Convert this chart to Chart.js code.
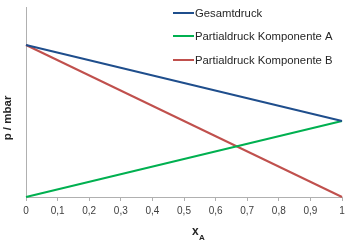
<!DOCTYPE html>
<html><head><meta charset="utf-8">
<script src="https://cdn.jsdelivr.net/npm/chart.js@4"></script>
<style>html,body{margin:0;padding:0;background:#fff}#w{width:352px;height:243px}</style>
</head><body><div id="w"><canvas id="c" width="352" height="243"></canvas></div>
<script>
const xValues = [0, 1];
const gesamtdruck = [100, 50];
const partialA = [0, 50];
const partialB = [100, 0];
const seriesLabels = ['Gesamtdruck', 'Partialdruck Komponente A', 'Partialdruck Komponente B'];
const seriesColors = ['#1f4e8c', '#00b050', '#c0504d'];
const xTickStep = 0.1;
const yMax = 125;

const font = 'Liberation Sans, Arial, sans-serif';
const mk = (arr) => xValues.map((x, i) => ({x, y: arr[i]}));

const deco = {
  id: 'deco',
  afterDraw(chart) {
    const ctx = chart.ctx;
    ctx.save();
    // legend
    ctx.font = '11.3px ' + font;
    ctx.textBaseline = 'middle';
    const rows = [13, 36, 60];
    chart.data.datasets.forEach((ds, i) => {
      ctx.strokeStyle = ds.borderColor;
      ctx.lineWidth = 2;
      ctx.beginPath(); ctx.moveTo(173, rows[i]); ctx.lineTo(194, rows[i]); ctx.stroke();
      ctx.fillStyle = '#262626';
      ctx.textAlign = 'left';
      ctx.fillText(ds.label, 195, rows[i] + 0.5);
    });
    // y title
    ctx.save();
    ctx.translate(8, 118);
    ctx.rotate(-Math.PI / 2);
    ctx.font = 'bold 11.5px ' + font;
    ctx.textAlign = 'center';
    ctx.fillStyle = '#262626';
    ctx.fillText('p / mbar', 0, 0);
    ctx.restore();
    // x title
    ctx.font = 'bold 12px ' + font;
    ctx.textAlign = 'left';
    ctx.textBaseline = 'alphabetic';
    ctx.fillStyle = '#262626';
    ctx.fillText('x', 192, 235);
    ctx.font = 'bold 8px ' + font;
    ctx.fillText('A', 199, 240);
    ctx.restore();
  }
};

new Chart(document.getElementById('c'), {
  type: 'line',
  data: {
    datasets: [
      {label: seriesLabels[0], data: mk(gesamtdruck), borderColor: seriesColors[0]},
      {label: seriesLabels[1], data: mk(partialA), borderColor: seriesColors[1]},
      {label: seriesLabels[2], data: mk(partialB), borderColor: seriesColors[2]}
    ].map(d => Object.assign(d, {borderWidth: 2, pointRadius: 0, fill: false, tension: 0, clip: false}))
  },
  options: {
    responsive: false,
    animation: false,
    layout: {padding: {top: 7, right: 10, left: 0, bottom: 0}},
    plugins: {legend: {display: false}, tooltip: {enabled: false}},
    scales: {
      x: {
        type: 'linear', min: 0, max: 1,
        afterFit(s) { s.height = 46; },
        ticks: {stepSize: xTickStep, padding: 4, color: '#404040', font: {size: 10, family: font}, maxRotation: 0,
          callback: v => (Math.round(v * 10) / 10).toString().replace('.', ',')},
        grid: {drawOnChartArea: false, drawTicks: true, tickLength: 4, color: '#b0b0b0'},
        border: {display: true, color: '#b0b0b0', width: 1}
      },
      y: {
        min: 0, max: yMax,
        afterFit(s) { s.width = 26; },
        ticks: {display: false},
        grid: {display: false},
        border: {display: true, color: '#b0b0b0', width: 1}
      }
    }
  },
  plugins: [deco]
});
</script></body></html>
